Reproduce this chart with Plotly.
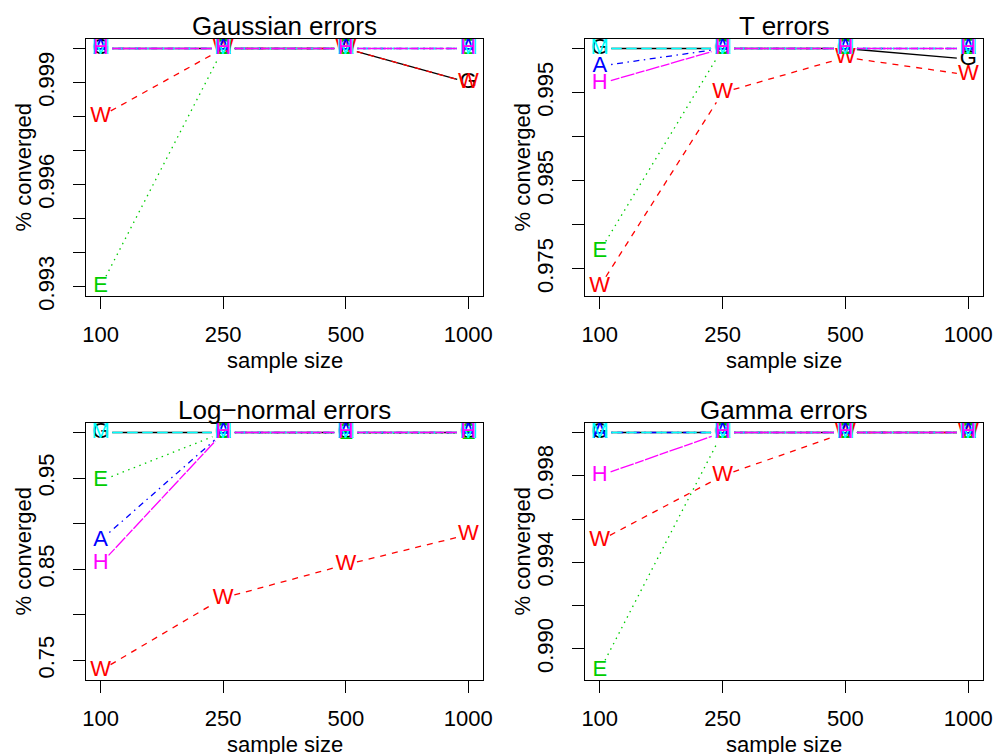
import plotly.graph_objects as go

# ---------------- data ----------------
sample_sizes = ["100", "250", "500", "1000"]
methods = ["G", "W", "E", "A", "M", "H"]
panel_titles = ["Gaussian errors", "T errors", "Log\u2212normal errors", "Gamma errors"]

gaussian = {
    "G": [1.0, 1.0, 1.0, 0.999],
    "W": [0.998, 1.0, 1.0, 0.999],
    "E": [0.993, 1.0, 1.0, 1.0],
    "A": [1.0, 1.0, 1.0, 1.0],
    "M": [1.0, 1.0, 1.0, 1.0],
    "H": [1.0, 1.0, 1.0, 1.0],
}
t_err = {
    "G": [1.0, 1.0, 1.0, 0.9988],
    "W": [0.973, 0.995, 0.999, 0.997],
    "E": [0.977, 1.0, 1.0, 1.0],
    "A": [0.998, 1.0, 1.0, 1.0],
    "M": [1.0, 1.0, 1.0, 1.0],
    "H": [0.996, 1.0, 1.0, 1.0],
}
lognormal = {
    "G": [1.0, 1.0, 1.0, 1.0],
    "W": [0.739, 0.8185, 0.855, 0.888],
    "E": [0.947, 1.0, 0.999, 0.999],
    "A": [0.882, 1.0, 1.0, 1.0],
    "M": [1.0, 1.0, 1.0, 1.0],
    "H": [0.856, 1.0, 1.0, 1.0],
}
gamma = {
    "G": [1.0, 1.0, 1.0, 1.0],
    "W": [0.995, 0.998, 1.0, 1.0],
    "E": [0.989, 1.0, 1.0, 1.0],
    "A": [1.0, 1.0, 1.0, 1.0],
    "M": [1.0, 1.0, 1.0, 1.0],
    "H": [0.998, 1.0, 1.0, 1.0],
}
panels_data = [gaussian, t_err, lognormal, gamma]

tick_vals = [
    [0.993, 0.994, 0.995, 0.996, 0.997, 0.998, 0.999, 1.000],
    [0.975, 0.980, 0.985, 0.990, 0.995, 1.000],
    [0.75, 0.80, 0.85, 0.90, 0.95, 1.00],
    [0.990, 0.992, 0.994, 0.996, 0.998, 1.000],
]
tick_labels = [
    ["0.993", "", "", "0.996", "", "", "0.999", ""],
    ["0.975", "", "0.985", "", "0.995", ""],
    ["0.75", "", "0.85", "", "0.95", ""],
    ["0.990", "", "0.994", "", "0.998", ""],
]

# ---------------- style ----------------
W_FIG, H_FIG = 995, 754
FONT = "Liberation Sans, Arial, Helvetica, sans-serif"
colors = {"G": "black", "W": "red", "E": "#00CD00", "A": "blue", "M": "cyan", "H": "magenta"}
dashes = {"G": "solid", "W": "6px,6px", "E": "1.5px,4.5px", "A": "1.5px,4.5px,6px,4.5px",
          "M": "10.5px,4.5px", "H": "9px,1.5px,14px,1.5px"}
# panel boxes in pixels (left, top, right, bottom)
boxes = [(86, 39, 483, 296), (585, 39, 983, 296), (86, 423, 483, 680), (585, 423, 983, 680)]
GAP = 11.5  # px gap around points (R type="b")

xpos = [i + 1 for i in range(len(sample_sizes))]
xr = [1 - 0.04 * (len(xpos) - 1), len(xpos) + 0.04 * (len(xpos) - 1)]

fig = go.Figure()
layout = dict(width=W_FIG, height=H_FIG, margin=dict(l=0, r=0, t=0, b=0),
              paper_bgcolor="white", plot_bgcolor="white", showlegend=False,
              font=dict(family=FONT, size=22, color="black"), annotations=[])

for p, data in enumerate(panels_data):
    l, t, r, b = boxes[p]
    pw, ph = r - l, b - t
    allv = [v for m in methods for v in data[m]]
    lo, hi = min(allv), max(allv)
    yr = [lo - 0.04 * (hi - lo), hi + 0.04 * (hi - lo)]
    ax = "" if p == 0 else str(p + 1)
    xa, ya = "x" + ax, "y" + ax

    for m in methods:
        ys = data[m]
        # gapped segments like R type="b"
        sx, sy = [], []
        for i in range(len(xpos) - 1):
            x1p = (xpos[i] - xr[0]) / (xr[1] - xr[0]) * pw
            x2p = (xpos[i + 1] - xr[0]) / (xr[1] - xr[0]) * pw
            y1p = (ys[i] - yr[0]) / (yr[1] - yr[0]) * ph
            y2p = (ys[i + 1] - yr[0]) / (yr[1] - yr[0]) * ph
            d = ((x2p - x1p) ** 2 + (y2p - y1p) ** 2) ** 0.5
            if d <= 2 * GAP:
                continue
            f = GAP / d
            xa1 = xpos[i] + f * (xpos[i + 1] - xpos[i])
            xa2 = xpos[i + 1] - f * (xpos[i + 1] - xpos[i])
            ya1 = ys[i] + f * (ys[i + 1] - ys[i])
            ya2 = ys[i + 1] - f * (ys[i + 1] - ys[i])
            sx += [xa1, xa2, None]
            sy += [ya1, ya2, None]
        fig.add_trace(go.Scatter(x=sx, y=sy, mode="lines", xaxis=xa, yaxis=ya,
                                 line=dict(color=colors[m], width=1.3, dash=dashes[m]),
                                 hoverinfo="skip", cliponaxis=False))
        fig.add_trace(go.Scatter(x=xpos, y=ys, mode="text", text=[m] * len(xpos),
                                 textposition="middle center", xaxis=xa, yaxis=ya,
                                 textfont=dict(family=FONT, size=22, color=colors[m]),
                                 cliponaxis=False, name=m))

    xkey = "xaxis" + ax
    ykey = "yaxis" + ax
    layout[xkey] = dict(domain=[l / W_FIG, r / W_FIG], range=xr, anchor=ya,
                        tickvals=xpos, ticktext=sample_sizes, ticks="outside", ticklen=12,
                        tickwidth=1, tickcolor="black", showline=True, mirror=True,
                        linecolor="black", linewidth=1.3, showgrid=False, zeroline=False,
                        automargin=False, ticklabelstandoff=6,
                        tickfont=dict(family=FONT, size=22, color="black"))
    layout[ykey] = dict(domain=[1 - b / H_FIG, 1 - t / H_FIG], range=yr, anchor=xa,
                        tickvals=tick_vals[p], ticktext=tick_labels[p], ticks="outside",
                        ticklen=12, tickwidth=1, tickcolor="black", showline=True,
                        mirror=True, linecolor="black", linewidth=1.3, showgrid=False,
                        zeroline=False, automargin=False, tickangle=-90,
                        ticklabelstandoff=10,
                        tickfont=dict(family=FONT, size=22, color="black"))
    cx = (l + r) / 2
    layout["annotations"] += [
        dict(text=panel_titles[p], x=cx / W_FIG, y=1 - (t - 13) / H_FIG, xref="paper",
             yref="paper", showarrow=False, xanchor="center", yanchor="middle",
             font=dict(family=FONT, size=26, color="black")),
        dict(text="sample size", x=cx / W_FIG, y=1 - (b + 64) / H_FIG, xref="paper",
             yref="paper", showarrow=False, xanchor="center", yanchor="middle",
             font=dict(family=FONT, size=22, color="black")),
        dict(text="% converged", x=(l - 63) / W_FIG, y=1 - ((t + b) / 2) / H_FIG,
             xref="paper", yref="paper", showarrow=False, textangle=-90,
             xanchor="center", yanchor="middle",
             font=dict(family=FONT, size=22, color="black")),
    ]

fig.update_layout(**layout)
fig.write_html("out.html")
